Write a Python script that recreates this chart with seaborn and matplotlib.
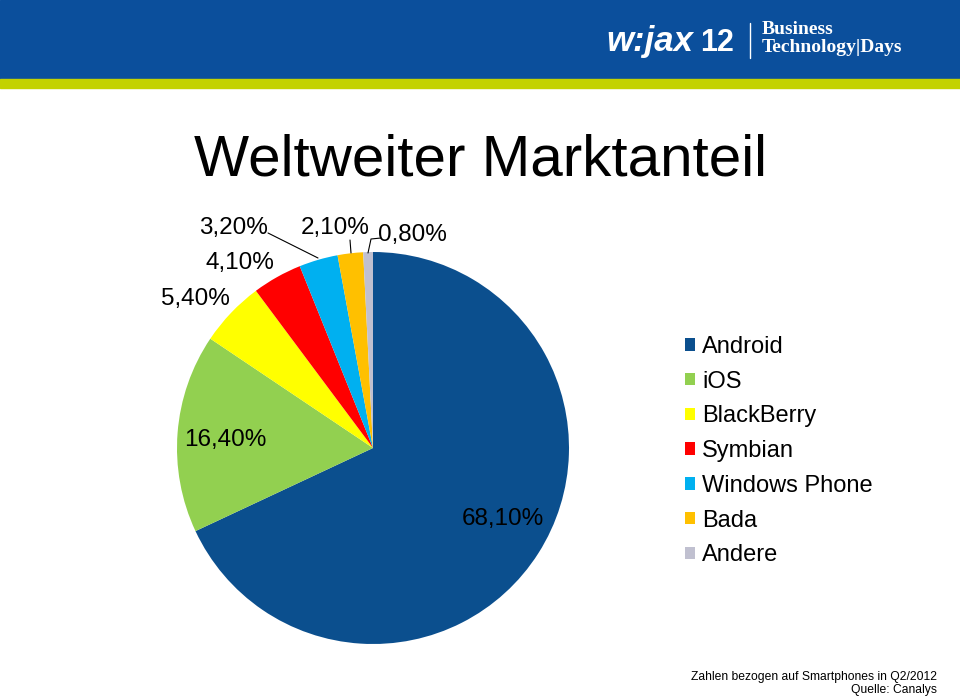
import matplotlib
matplotlib.use("Agg")
import matplotlib.pyplot as plt
import matplotlib.patches as mpatches
import seaborn as sns

# data
systems = ["Android", "iOS", "BlackBerry", "Symbian", "Windows Phone", "Bada", "Andere"]
shares = [68.1, 16.4, 5.4, 4.1, 3.2, 2.1, 0.8]
colors = ["#0b4f8e", "#92d050", "#ffff00", "#ff0000", "#00b0f0", "#ffc000", "#c0c0d0"]

sns.set_theme(style="white")
plt.rcParams["font.family"] = ["Liberation Sans", "DejaVu Sans"]
plt.rcParams["text.color"] = "black"

W, H = 960, 699
fig = plt.figure(figsize=(W / 100, H / 100), dpi=100)
ax = fig.add_axes([0, 0, 1, 1])

def py(y):
    # pixel row (from top) -> data y
    return H - y

# header band
ax.add_patch(mpatches.Rectangle((0, py(79)), W, 79, color="#0b4f9c", zorder=1))
ax.add_patch(mpatches.Rectangle((0, py(88)), W, 9, color="#c3d200", zorder=1))
ax.text(606, py(41), "w:jax", color="white", fontsize=25, fontweight="bold",
        fontstyle="italic", va="center", ha="left", zorder=2)
ax.text(700, py(43), "12", color="white", fontsize=22, fontweight="bold",
        va="center", ha="left", zorder=2)
ax.plot([750, 750], [py(23), py(58)], color="white", lw=1, zorder=2)
ax.text(762, py(30), "Business", color="white", fontsize=14, fontweight="bold",
        family="Liberation Serif", va="center", ha="left", zorder=2)
ax.text(762, py(48), "Technology|Days", color="white", fontsize=14, fontweight="bold",
        family="Liberation Serif", va="center", ha="left", zorder=2)

# title
ax.text(480, py(160), "Weltweiter Marktanteil", fontsize=42, ha="center", va="center")

# pie
cx, cy, r = 373, py(448), 196
wedges, _ = ax.pie(shares, colors=colors, startangle=90, counterclock=False,
                   center=(cx, cy), radius=r,
                   wedgeprops=dict(linewidth=0, edgecolor="none"))

# labels (pixel positions)
label_pos = [(503, 519), (225, 440), (195, 299), (240, 263), (233, 228), (335, 228), (412, 235)]
for v, (x, y) in zip(shares, label_pos):
    ax.text(x, py(y), f"{v:.2f}".replace(".", ",") + "%", fontsize=17.5,
            ha="center", va="center")

# leader lines
ax.plot([268, 318], [py(233), py(258)], color="black", lw=0.8)
ax.plot([350, 351], [py(240), py(253)], color="black", lw=0.8)
ax.plot([368, 371, 381], [py(253), py(239), py(238)], color="black", lw=0.8)

# legend
leg = ax.legend(wedges, systems, loc="upper left", bbox_to_anchor=(673 / W, 1 - 324 / H),
                frameon=False, fontsize=17, handlelength=0.45, handleheight=0.45,
                handletextpad=0.28, labelspacing=0.54, borderpad=0, labelcolor="black")

# footer
ax.text(937, py(677), "Zahlen bezogen auf Smartphones in Q2/2012", fontsize=8.7,
        ha="right", va="center")
ax.text(937, py(690), "Quelle: Canalys", fontsize=8.7, ha="right", va="center")

ax.set_xlim(0, W)
ax.set_ylim(0, H)
ax.set_aspect("auto")
ax.axis("off")

fig.savefig("out.png", dpi=100)
